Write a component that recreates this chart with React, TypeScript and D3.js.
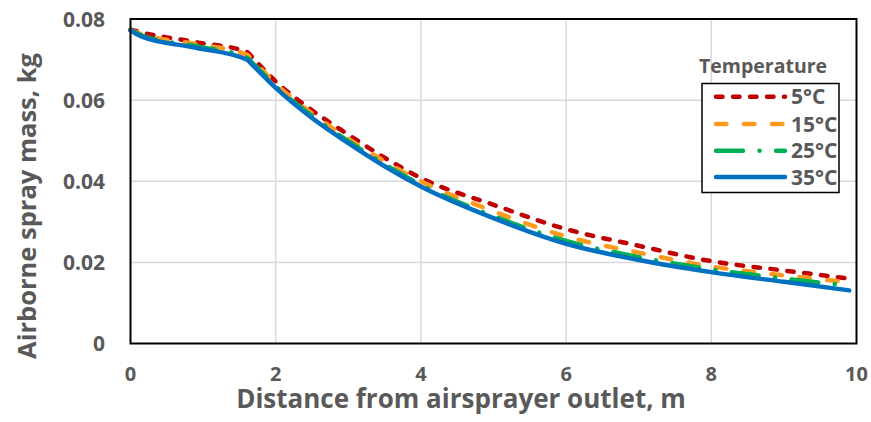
import React from "react";
import * as d3 from "d3";

const W = 871;
const H = 422;

const xVals = [0, 0.15, 0.9, 1.6, 1.7, 2, 2.5, 3, 3.5, 4, 5, 6, 7, 8, 9, 9.9];
const t5 = [0.0774, 0.0767, 0.0743, 0.0719, 0.0701, 0.0646, 0.0575, 0.0515, 0.0458, 0.0408, 0.0342, 0.0282, 0.0241, 0.0203, 0.0180, 0.0160];
const t15 = [0.0773, 0.0763, 0.0738, 0.0712, 0.0695, 0.0640, 0.0567, 0.0505, 0.0449, 0.0400, 0.0326, 0.0264, 0.0224, 0.0190, 0.0168, 0.0151];
const t25 = [0.0772, 0.0760, 0.0733, 0.0705, 0.0688, 0.0634, 0.0561, 0.0499, 0.0442, 0.0391, 0.0314, 0.0253, 0.0213, 0.0183, 0.0160, 0.0143];
const t35 = [0.0772, 0.0757, 0.0729, 0.0700, 0.0683, 0.0630, 0.0556, 0.0494, 0.0437, 0.0387, 0.0309, 0.0246, 0.0206, 0.0176, 0.0152, 0.0131];

const xTicks = [0, 2, 4, 6, 8, 10];
const yTicks = [0, 0.02, 0.04, 0.06, 0.08];
const yTickLabels = ["0", "0.02", "0.04", "0.06", "0.08"];

const seriesNames = ["5°C", "15°C", "25°C", "35°C"];
const seriesData = [t5, t15, t25, t35];
const seriesColors = ["#C00000", "#FF9A1F", "#00B050", "#0070C0"];
const seriesDash = ["6.5 10.5", "10.5 17.5", "27 16.5 0.1 16.5", "none"];

const FONT = "'Open Sans', sans-serif";
const GRAY = "#595959";

export default function App() {
  const left = 130.5, right = 856.5, top = 19, bottom = 343.5;
  const x = d3.scaleLinear().domain([0, 10]).range([left, right]);
  const y = d3.scaleLinear().domain([0, 0.08]).range([bottom, top]);

  const line = d3
    .line<[number, number]>()
    .x((d) => x(d[0]))
    .y((d) => y(d[1]))
    .curve(d3.curveMonotoneX);

  const legendRows = [96.7, 124, 150.7, 177];

  return (
    <div style={{ position: "absolute", left: 0, top: 0 }}>
      <svg width={W} height={H} style={{ display: "block", background: "#fff" }}>
        {/* grid */}
        {xTicks.filter((t) => t > 0 && t < 10).map((t) => (
          <line key={"gx" + t} x1={x(t)} x2={x(t)} y1={top} y2={bottom} stroke="#D9D9D9" strokeWidth={1.5} />
        ))}
        {yTicks.filter((t) => t > 0 && t < 0.08).map((t) => (
          <line key={"gy" + t} x1={left} x2={right} y1={y(t)} y2={y(t)} stroke="#D9D9D9" strokeWidth={1.5} />
        ))}

        {/* series */}
        {seriesData.map((vals, i) => (
          <path
            key={"s" + i}
            d={line(xVals.map((xv, j) => [xv, vals[j]] as [number, number])) || ""}
            fill="none"
            stroke={seriesColors[i]}
            strokeWidth={4.5}
            strokeDasharray={seriesDash[i]}
            strokeLinecap="round"
            strokeLinejoin="round"
          />
        ))}

        {/* frame */}
        <rect x={left} y={top} width={right - left} height={bottom - top} fill="none" stroke="#000" strokeWidth={2} />

        {/* y ticks */}
        {yTicks.map((t, i) => (
          <text key={"yt" + t} x={105} y={y(t)} dy="0.36em" textAnchor="end" fontFamily={FONT} fontWeight={700} fontSize={21} fill={GRAY}>
            {yTickLabels[i]}
          </text>
        ))}
        {/* x ticks */}
        {xTicks.map((t) => (
          <text key={"xt" + t} x={x(t)} y={381} textAnchor="middle" fontFamily={FONT} fontWeight={700} fontSize={20} fill={GRAY}>
            {t}
          </text>
        ))}

        {/* axis titles */}
        <text x={461} y={408} textAnchor="middle" fontFamily={FONT} fontWeight={700} fontSize={26} fill={GRAY}>
          Distance from airsprayer outlet, m
        </text>
        <text
          transform={`translate(36,206) rotate(-90)`}
          textAnchor="middle"
          fontFamily={FONT}
          fontWeight={700}
          fontSize={25.5}
          fill={GRAY}
        >
          Airborne spray mass, kg
        </text>

        {/* legend */}
        <text x={699} y={73} fontFamily={FONT} fontWeight={700} fontSize={19.5} fill={GRAY}>
          Temperature
        </text>
        <rect x={702} y={83.5} width={137} height={109} fill="#fff" stroke="#000" strokeWidth={1.5} />
        {seriesNames.map((n, i) => (
          <g key={"lg" + i}>
            <line
              x1={716}
              x2={785}
              y1={legendRows[i]}
              y2={legendRows[i]}
              stroke={seriesColors[i]}
              strokeWidth={4.5}
              strokeDasharray={seriesDash[i]}
              strokeLinecap="round"
            />
            <text x={791} y={legendRows[i] + 7.5} fontFamily={FONT} fontWeight={700} fontSize={21} fill={GRAY}>
              {n}
            </text>
          </g>
        ))}
      </svg>
    </div>
  );
}
